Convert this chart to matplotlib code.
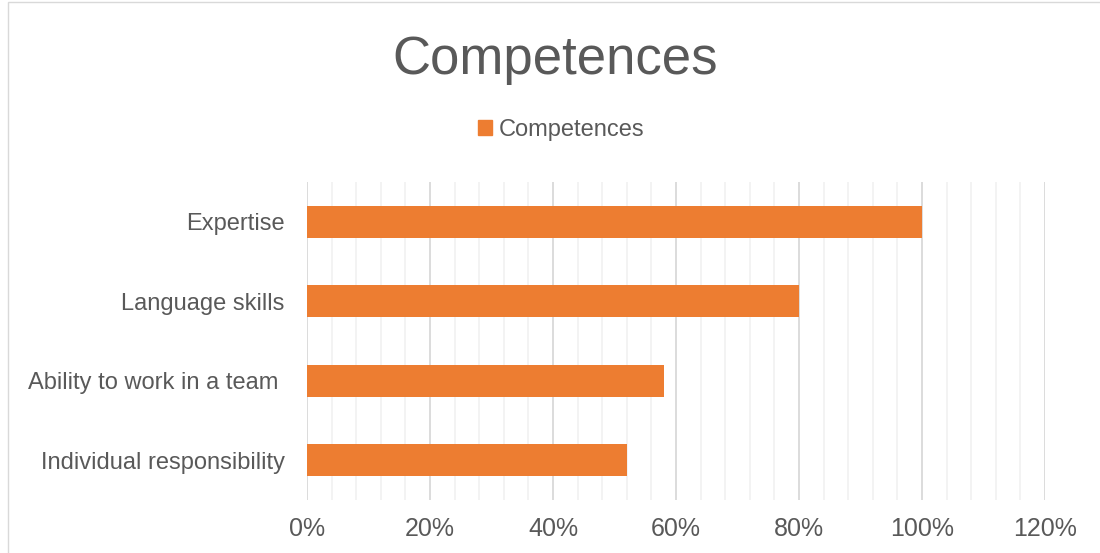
import matplotlib.pyplot as plt
import matplotlib.patches as mpatches
from matplotlib.ticker import MultipleLocator, PercentFormatter

plt.rcParams['font.family'] = ['Liberation Sans', 'DejaVu Sans']

categories = ['Individual responsibility', 'Ability to work in a team ',
              'Language skills', 'Expertise']
values = [52, 58, 80, 100]

text_col = '#595959'
bar_col = '#ED7D31'

fig = plt.figure(figsize=(11, 5.53), dpi=100)
ax = fig.add_axes([307/1100, 1 - 500/553, 738/1100, 318/553])

ax.barh(range(len(categories)), values, height=0.4, color=bar_col, zorder=3)

ax.set_xlim(0, 120)
ax.set_ylim(-0.5, 3.5)
ax.xaxis.set_major_locator(MultipleLocator(20))
ax.xaxis.set_minor_locator(MultipleLocator(4))
ax.xaxis.set_major_formatter(PercentFormatter(decimals=0))
ax.set_yticks(range(len(categories)))
ax.set_yticklabels(categories)

ax.grid(axis='x', which='major', color='#d9d9d9', linewidth=1.3, zorder=0)
ax.grid(axis='x', which='minor', color='#f2f2f2', linewidth=1.3, zorder=0)
for s in ax.spines.values():
    s.set_visible(False)
ax.tick_params(axis='both', which='both', length=0, colors=text_col)
ax.tick_params(axis='x', pad=12, labelsize=18)
ax.tick_params(axis='y', pad=16, labelsize=17)

fig.text(555/1100, 1 - 60/553, 'Competences', ha='center', va='center',
         fontsize=38, color=text_col)

handle = mpatches.Patch(color=bar_col, label='Competences')
fig.legend(handles=[handle], loc='center', bbox_to_anchor=(561/1100, 1 - 130/553),
           frameon=False, fontsize=17, handlelength=0.6, handleheight=0.6,
           handletextpad=0.3, labelcolor=text_col)

# thin frame around the chart area
fig.patches.append(mpatches.Rectangle((8/1100, -0.01), 1.0, 1 - 2/553 + 0.01,
                                      transform=fig.transFigure, fill=False,
                                      edgecolor='#d9d9d9', linewidth=1))

fig.savefig('out.png', dpi=100)
